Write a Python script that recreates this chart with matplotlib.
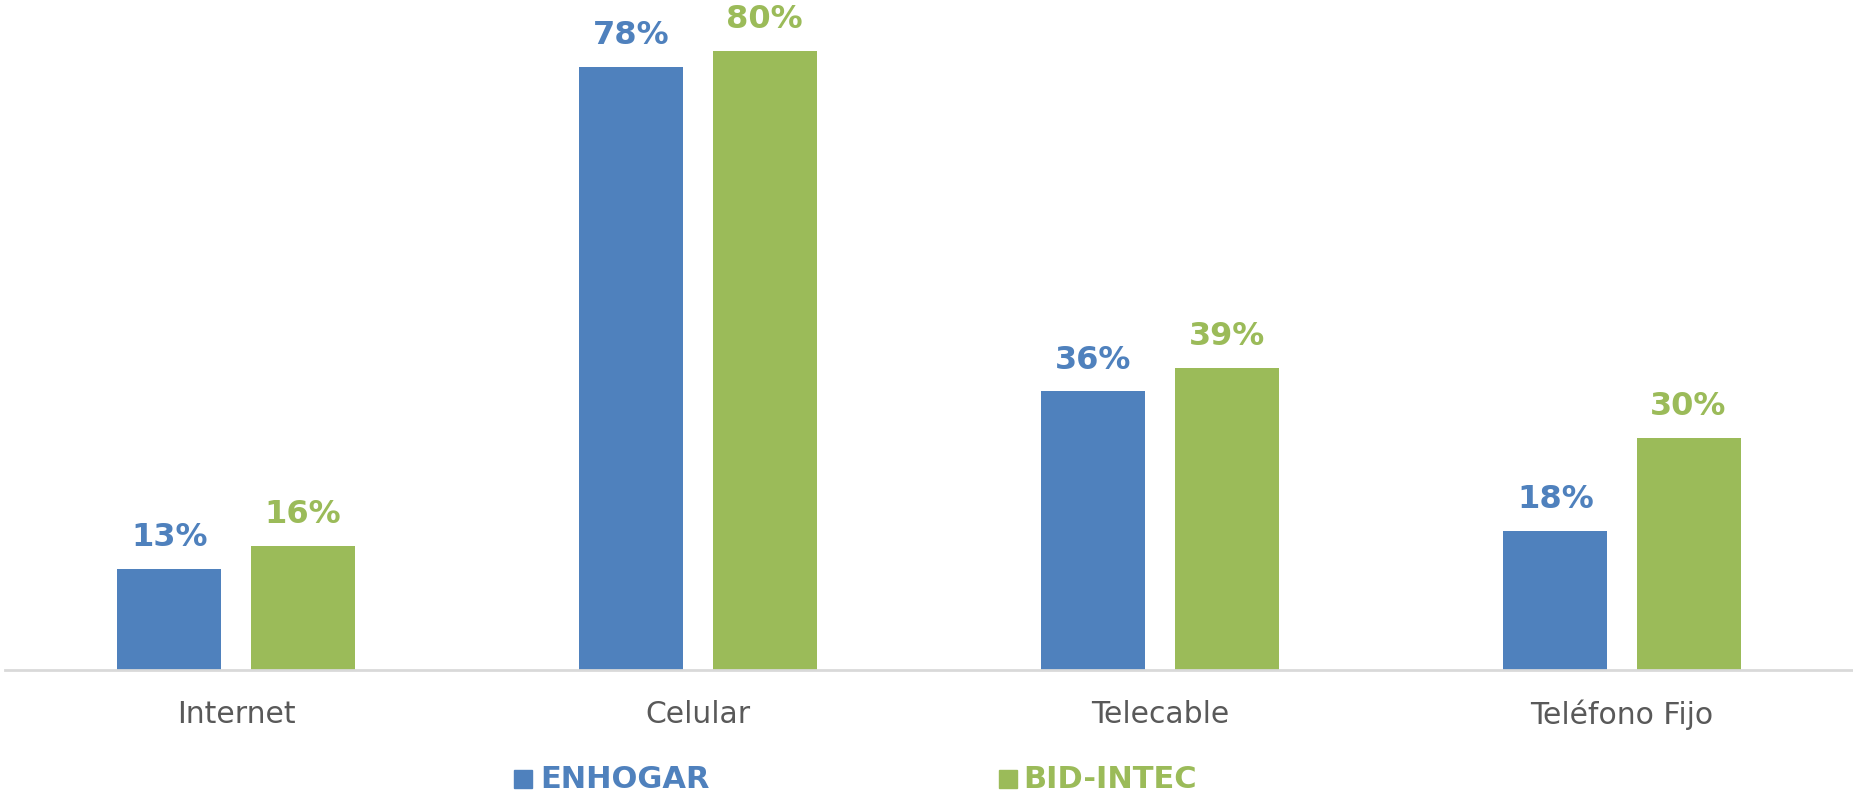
import matplotlib
matplotlib.use("Agg")
import matplotlib.pyplot as plt
from matplotlib.patches import Rectangle
import numpy as np

plt.rcParams.update({"font.family": "DejaVu Sans"})

categories = ["Internet", "Celular", "Telecable", "Teléfono Fijo"]
enhogar = [13, 78, 36, 18]
bid_intec = [16, 80, 39, 30]
series_names = ["ENHOGAR", "BID-INTEC"]

BLUE = "#4F81BD"
GREEN = "#9BBB59"

W, H = 1853, 798
fig = plt.figure(figsize=(W / 100, H / 100), dpi=100)
ax = fig.add_axes([5 / W, (H - 670) / H, 1 - 5 / W, 670 / H])

x = np.arange(len(categories))
w = 0.225
off = 0.144
b1 = ax.bar(x - off, enhogar, w, color=BLUE)
b2 = ax.bar(x + off, bid_intec, w, color=GREEN)

for bars, vals, col in ((b1, enhogar, BLUE), (b2, bid_intec, GREEN)):
    for bar, v in zip(bars, vals):
        ax.annotate(f"{v}%", (bar.get_x() + bar.get_width() / 2, v),
                    xytext=(0, 11.5), textcoords="offset points",
                    ha="center", va="bottom", fontsize=23, fontweight="bold",
                    color=col, annotation_clip=False)

ax.set_xlim(-0.5, len(categories) - 0.5)
ax.set_ylim(0, 86.6)
ax.set_xticks(x)
ax.set_xticklabels(categories, fontsize=21.5, color="#595959")
ax.tick_params(axis="x", length=0, pad=21.5)
ax.set_yticks([])
for s in ("top", "right", "left"):
    ax.spines[s].set_visible(False)
ax.spines["bottom"].set_color("#D9D9D9")
ax.spines["bottom"].set_linewidth(2)

# legend drawn by hand: colored squares + bold colored names
for (mx, tx), name, col in zip(((514, 540), (999, 1023)), series_names, (BLUE, GREEN)):
    fig.patches.append(Rectangle((mx / W, (H - 788) / H), 18 / W, 18 / H,
                                 transform=fig.transFigure, color=col))
    fig.text(tx / W, (H - 780) / H, name, ha="left", va="center",
             fontsize=22, fontweight="bold", color=col)

fig.savefig("out.png", dpi=100)
